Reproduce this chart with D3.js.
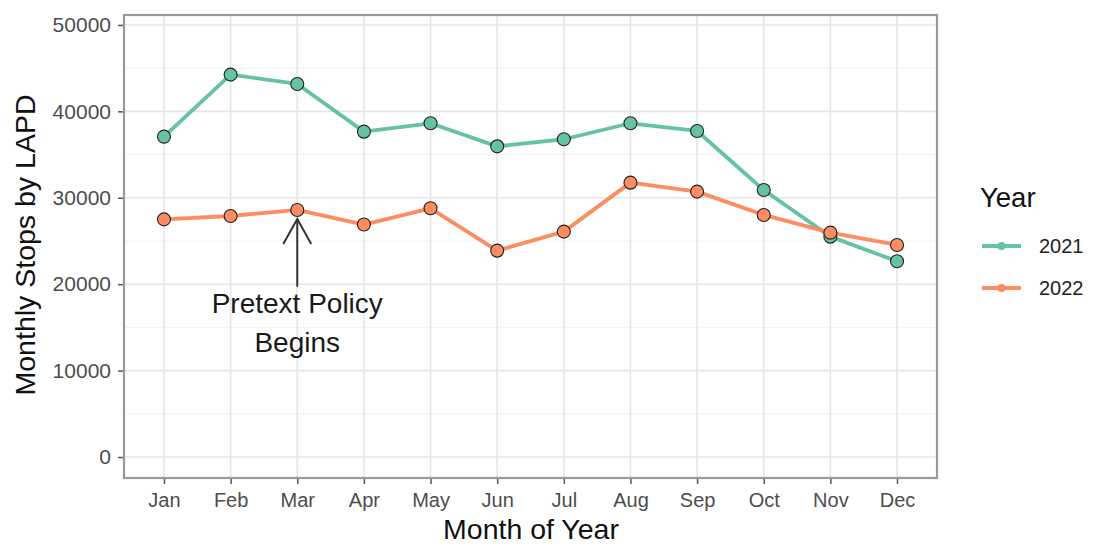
<!DOCTYPE html>
<html><head><meta charset="utf-8">
<script src="https://cdn.jsdelivr.net/npm/d3@7"></script>
<style>body{margin:0;background:#fff}svg{display:block;font-family:"Liberation Sans",Arial,sans-serif}</style>
</head><body><svg id="c" width="1093" height="544"></svg>
<script>
const months = ["Jan","Feb","Mar","Apr","May","Jun","Jul","Aug","Sep","Oct","Nov","Dec"];
const stops2021 = [37070,44250,43170,37650,38620,35950,36770,38620,37730,30900,25500,22650];
const stops2022 = [27500,27890,28590,26900,28780,23880,26080,31750,30710,28010,25960,24540];
const yTicks = [0,10000,20000,30000,40000,50000];
const yMinor = [5000,15000,25000,35000,45000];
const seriesNames = ["2021","2022"];
const seriesColors = ["#66C2A5","#FC8D62"];
const annotation = {month:"Mar", lines:["Pretext Policy","Begins"]};

const svg = d3.select("#c");
const L=124, R=937, T=15, B=478;
const x = d3.scaleLinear().domain([0.4,12.6]).range([L,R]);
const xm = m => x(months.indexOf(m)+1);
const y = d3.scaleLinear().domain([-2430,51150]).range([B,T]);

svg.append("rect").attr("x",L).attr("y",T).attr("width",R-L).attr("height",B-T).attr("fill","#fff");
svg.append("g").selectAll("line").data(yMinor).join("line")
  .attr("x1",L).attr("x2",R).attr("y1",d=>y(d)).attr("y2",d=>y(d))
  .attr("stroke","#f2f2f2").attr("stroke-width",1);
svg.append("g").selectAll("line").data(yTicks).join("line")
  .attr("x1",L).attr("x2",R).attr("y1",d=>y(d)).attr("y2",d=>y(d))
  .attr("stroke","#e6e6e6").attr("stroke-width",1.6);
svg.append("g").selectAll("line").data(months).join("line")
  .attr("y1",T).attr("y2",B).attr("x1",d=>xm(d)).attr("x2",d=>xm(d))
  .attr("stroke","#e6e6e6").attr("stroke-width",1.6);

const yAxis = d3.axisLeft(y).tickValues(yTicks).tickSize(6).tickPadding(7).tickFormat(d3.format("d"));
const gy = svg.append("g").attr("transform",`translate(${L},0)`).call(yAxis);
gy.select(".domain").remove();
gy.selectAll("line").attr("stroke","#555").attr("stroke-width",1.5);
gy.selectAll("text").attr("fill","#4d4d4d").attr("font-size",21).attr("font-family","Liberation Sans, Arial, sans-serif");

const xAxis = d3.axisBottom(x).tickValues(d3.range(1,13)).tickSize(6).tickPadding(9).tickFormat(i=>months[i-1]);
const gx = svg.append("g").attr("transform",`translate(0,${B})`).call(xAxis);
gx.select(".domain").remove();
gx.selectAll("line").attr("stroke","#555").attr("stroke-width",1.5);
gx.selectAll("text").attr("fill","#4d4d4d").attr("font-size",20).attr("font-family","Liberation Sans, Arial, sans-serif");

const series = [stops2021, stops2022];
const line = d3.line().x((d,i)=>x(i+1)).y(d=>y(d));
series.forEach((s,k)=>{
  svg.append("path").datum(s).attr("d",line).attr("fill","none")
    .attr("stroke",seriesColors[k]).attr("stroke-width",3.8).attr("stroke-linejoin","round");
});
series.forEach((s,k)=>{
  svg.append("g").selectAll("circle").data(s).join("circle")
    .attr("cx",(d,i)=>x(i+1)).attr("cy",d=>y(d)).attr("r",6.5)
    .attr("fill",seriesColors[k]).attr("stroke","#222").attr("stroke-width",1.1);
});

const ax = xm(annotation.month);
const tipY = y(stops2022[months.indexOf(annotation.month)]) + 9;
const baseY = y(19700);
const ag = svg.append("g").attr("stroke","#333").attr("stroke-width",2).attr("fill","none");
ag.append("line").attr("x1",ax).attr("x2",ax).attr("y1",baseY).attr("y2",tipY);
ag.append("path").attr("d",`M${ax-14},${tipY+25}L${ax},${tipY}L${ax+14},${tipY+25}`);
svg.append("g").selectAll("text").data(annotation.lines).join("text")
  .attr("x",ax).attr("y",(d,i)=>313+i*39).attr("text-anchor","middle")
  .attr("font-size",28).attr("fill","#1a1a1a").text(d=>d);

svg.append("rect").attr("x",L).attr("y",T).attr("width",R-L).attr("height",B-T)
  .attr("fill","none").attr("stroke","#9a9a9a").attr("stroke-width",2.2);

svg.append("text").attr("x",531).attr("y",539).attr("text-anchor","middle")
  .attr("font-size",28.5).attr("fill","#111").text("Month of Year");
svg.append("text").attr("transform",`translate(35,245) rotate(-90)`).attr("text-anchor","middle")
  .attr("font-size",28.5).attr("fill","#111").text("Monthly Stops by LAPD");

svg.append("text").attr("x",980).attr("y",207).attr("font-size",27.5).attr("fill","#111").text("Year");
seriesNames.forEach((n,k)=>{
  const ly = 246 + k*42;
  svg.append("line").attr("x1",982).attr("x2",1021).attr("y1",ly).attr("y2",ly)
    .attr("stroke",seriesColors[k]).attr("stroke-width",3.8);
  svg.append("circle").attr("cx",1001.5).attr("cy",ly).attr("r",4).attr("fill",seriesColors[k]);
  svg.append("text").attr("x",1039).attr("y",ly+7).attr("font-size",20).attr("fill","#222").text(n);
});
</script></body></html>
